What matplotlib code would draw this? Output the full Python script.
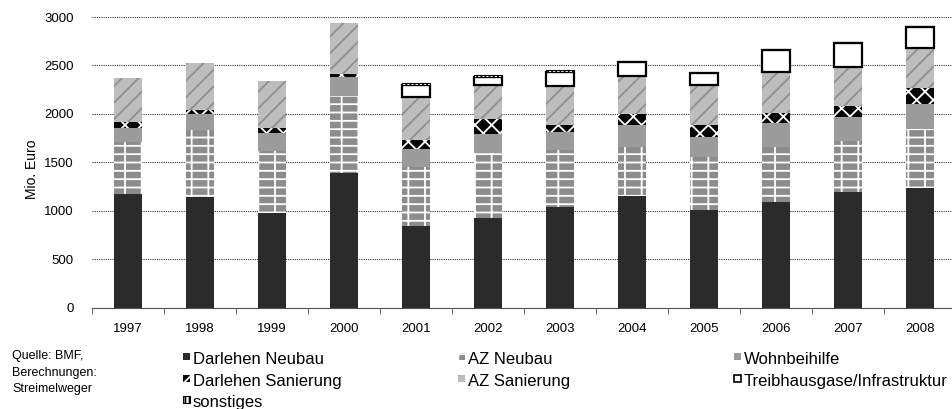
import matplotlib.pyplot as plt
import numpy as np
from matplotlib.patches import Rectangle

plt.rcParams['font.family'] = ['Liberation Sans', 'DejaVu Sans']
plt.rcParams['hatch.linewidth'] = 1.3

# data (Mio. Euro)
years = ['1997', '1998', '1999', '2000', '2001', '2002', '2003', '2004', '2005', '2006', '2007', '2008']
darlehen_neubau = [1167, 1137, 971, 1385, 840, 923, 1040, 1150, 1006, 1092, 1192, 1236]
az_neubau = [545, 695, 648, 802, 607, 668, 586, 510, 544, 561, 523, 603]
wohnbeihilfe = [144, 162, 179, 189, 192, 200, 189, 227, 213, 248, 255, 262]
darlehen_sanierung = [62, 45, 51, 35, 90, 151, 69, 111, 121, 110, 110, 162]
az_sanierung = [448, 489, 490, 523, 448, 355, 403, 392, 410, 420, 407, 420]
treibhausgase = [0, 0, 0, 0, 120, 86, 148, 145, 124, 228, 248, 217]
sonstiges = [0, 0, 0, 0, 24, 17, 14, 14, 13, 10, 10, 10]

# series name, values, style
series = [
    ('Darlehen Neubau', darlehen_neubau, dict(color='#2b2b2b', linewidth=0)),
    ('AZ Neubau', az_neubau, dict(facecolor='#8c8c8c', edgecolor='white', hatch='--|', linewidth=0)),
    ('Wohnbeihilfe', wohnbeihilfe, dict(color='#9b9b9b', linewidth=0)),
    ('Darlehen Sanierung', darlehen_sanierung, dict(facecolor='#050505', edgecolor='white', hatch='xx', linewidth=0)),
    ('AZ Sanierung', az_sanierung, dict(facecolor='#bdbdbd', edgecolor='#8f8f8f', hatch='//', linewidth=0)),
    ('Treibhausgase/Infrastruktur', treibhausgase, dict(facecolor='white', edgecolor='black', linewidth=1.6)),
    ('sonstiges', sonstiges, dict(facecolor='white', edgecolor='black', hatch='||||', linewidth=0.8)),
]

W, H = 952, 409
fig = plt.figure(figsize=(W / 100, H / 100), dpi=100)
ax = fig.add_axes([92 / W, 1 - 307.5 / H, 864 / W, 290.5 / H])

x = np.arange(len(years))
bottom = np.zeros(len(years))
for name, vals, style in series:
    vals = np.array(vals, dtype=float)
    bars = ax.bar(x, vals, 0.4, bottom=bottom, label=name, **style)
    for b, v in zip(bars, vals):
        if v == 0:
            b.set_visible(False)
    bottom += vals

ax.set_xlim(-0.5, 11.5)
ax.set_ylim(0, 3000)
ax.set_yticks(range(0, 3001, 500))
ax.yaxis.grid(True, linestyle=(0, (1, 1)), color='#333333', linewidth=0.8)
ax.set_axisbelow(True)

for s in ['top', 'right', 'left']:
    ax.spines[s].set_visible(False)
ax.spines['bottom'].set_color('#555555')

ax.set_xticks(x)
ax.set_xticklabels(years)
ax.set_xticks(np.arange(-0.5, 12, 1), minor=True)
ax.tick_params(axis='x', which='major', length=0, pad=11, labelsize=9.5)
ax.tick_params(axis='x', which='minor', length=4, color='#555555')
ax.tick_params(axis='y', length=0, pad=13, labelsize=9.5)

fig.text(32 / W, 1 - 169 / H, 'Mio. Euro', rotation=90, ha='center', va='center', fontsize=10)

# source note
for txt, yb in [('Quelle: BMF,', 359), ('Berechnungen:', 376), ('Streimelweger', 392)]:
    fig.text(12 / W, 1 - yb / H, txt, fontsize=9, va='baseline')

# legend, laid out by hand in three columns
legend_pos = {
    'Darlehen Neubau': (183, 364), 'AZ Neubau': (458, 364), 'Wohnbeihilfe': (734, 364),
    'Darlehen Sanierung': (183, 386), 'AZ Sanierung': (458, 386),
    'Treibhausgase/Infrastruktur': (734, 386), 'sonstiges': (183, 407),
}
for name, vals, style in series:
    px, yb = legend_pos[name]
    st = dict(style)
    if 'color' in st:
        st['facecolor'] = st.pop('color')
    st['linewidth'] = min(st.get('linewidth', 0), 1.2)
    fig.patches.append(Rectangle((px / W, 1 - (yb - 4) / H), 7 / W, 7 / H,
                                 transform=fig.transFigure, **st))
    fig.text((px + 10) / W, 1 - yb / H, name, fontsize=12, va='baseline')

fig.savefig('out.png', dpi=100)
